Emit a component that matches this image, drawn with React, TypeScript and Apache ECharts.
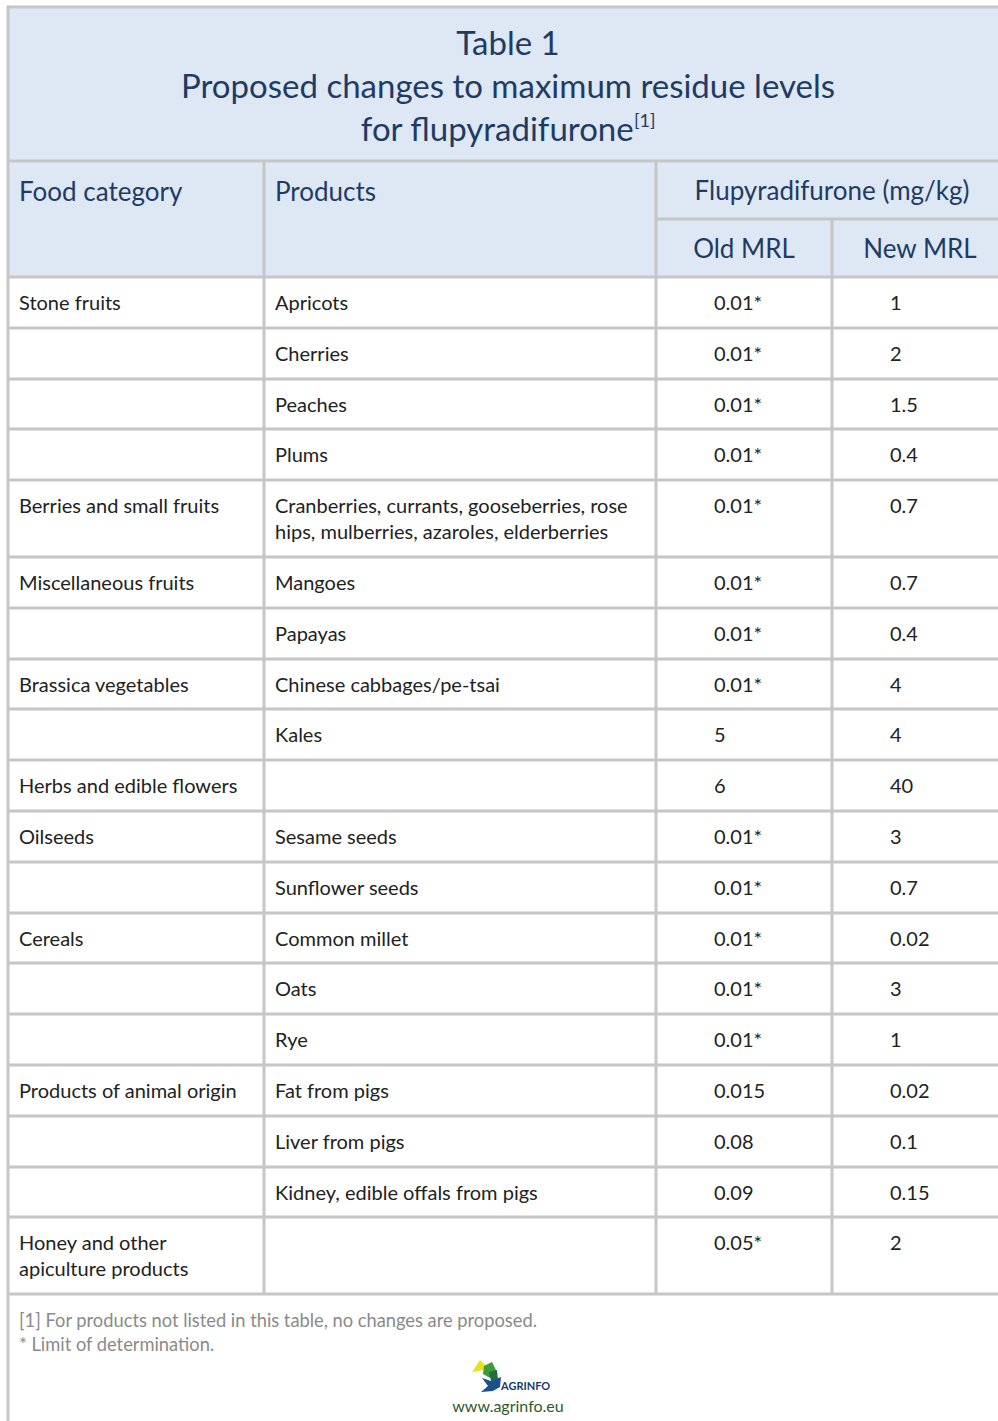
import React, { useEffect, useRef } from "react";
import * as echarts from "echarts";

const titleLines = ["Table 1", "Proposed changes to maximum residue levels", "for flupyradifurone"];
const headers = ["Food category", "Products", "Flupyradifurone (mg/kg)", "Old MRL", "New MRL"];
const categories = [
  "Stone fruits", "", "", "", "Berries and small fruits", "Miscellaneous fruits", "",
  "Brassica vegetables", "", "Herbs and edible flowers", "Oilseeds", "", "Cereals", "", "",
  "Products of animal origin", "", "", "Honey and other\napiculture products",
];
const products = [
  "Apricots", "Cherries", "Peaches", "Plums",
  "Cranberries, currants, gooseberries, rose\nhips, mulberries, azaroles, elderberries",
  "Mangoes", "Papayas", "Chinese cabbages/pe-tsai", "Kales", "", "Sesame seeds",
  "Sunflower seeds", "Common millet", "Oats", "Rye", "Fat from pigs", "Liver from pigs",
  "Kidney, edible offals from pigs", "",
];
const oldMRL = [
  "0.01*", "0.01*", "0.01*", "0.01*", "0.01*", "0.01*", "0.01*", "0.01*", "5", "6",
  "0.01*", "0.01*", "0.01*", "0.01*", "0.01*", "0.015", "0.08", "0.09", "0.05*",
];
const newMRL = [
  "1", "2", "1.5", "0.4", "0.7", "0.7", "0.4", "4", "4", "40",
  "3", "0.7", "0.02", "3", "1", "0.02", "0.1", "0.15", "2",
];
const footnotes = ["[1] For products not listed in this table, no changes are proposed.", "* Limit of determination."];
const website = "www.agrinfo.eu";

const FONT = "Lato, 'Noto Sans', sans-serif";
const BORDER = "#c6c6c6";
const HEAD_BG = "#dde8f4";
const NAVY = "#1f3b63";
const BODY = "#222222";

export default function App() {
  const ref = useRef<HTMLDivElement>(null);
  useEffect(() => {
    document.body.style.margin = "0";
    const chart = echarts.init(ref.current!, null, { renderer: "svg" });
    const W = 998;
    const L = 8;
    const R = 1008;
    const top = 7;
    const titleBottom = 161;
    const subLine = 219;
    const headBottom = 277;
    const colX = [L, 264, 656, 832, R];
    const lineH = 26;
    const baseRow = 50.8;

    const els: any[] = [];
    els.push({ type: "rect", shape: { x: L, y: top, width: W - L, height: headBottom - top }, style: { fill: HEAD_BG }, silent: true });

    const tY = [42, 85, 128];
    titleLines.forEach((t, i) => {
      if (i < 2) {
        els.push({ type: "text", x: (L + R) / 2, y: tY[i], style: { text: t, font: `33px ${FONT}`, fill: NAVY, align: "center", verticalAlign: "middle" } });
      } else {
        els.push({
          type: "text", x: (L + R) / 2, y: tY[i],
          style: {
            text: `{a|${t}}{s|[1]}`, align: "center", verticalAlign: "middle",
            rich: {
              a: { fontFamily: FONT, fontSize: 33, fill: NAVY, lineHeight: 40 },
              s: { fontFamily: FONT, fontSize: 18, fill: NAVY, padding: [0, 0, 16, 0], lineHeight: 20 },
            },
          },
        });
      }
    });

    const HF = `26px ${FONT}`;
    els.push({ type: "text", x: 19, y: 191, style: { text: headers[0], font: HF, fill: NAVY, verticalAlign: "middle" } });
    els.push({ type: "text", x: 275, y: 191, style: { text: headers[1], font: HF, fill: NAVY, verticalAlign: "middle" } });
    els.push({ type: "text", x: (colX[2] + R) / 2, y: 190, style: { text: headers[2], font: HF, fill: NAVY, align: "center", verticalAlign: "middle" } });
    els.push({ type: "text", x: (colX[2] + colX[3]) / 2, y: 248, style: { text: headers[3], font: HF, fill: NAVY, align: "center", verticalAlign: "middle" } });
    els.push({ type: "text", x: (colX[3] + R) / 2, y: 248, style: { text: headers[4], font: HF, fill: NAVY, align: "center", verticalAlign: "middle" } });

    let y = headBottom;
    const rowTops: number[] = [];
    categories.forEach((c, i) => {
      const n = Math.max(c.split("\n").length, products[i].split("\n").length);
      const h = baseRow + lineH * (n - 1);
      rowTops.push(y);
      const ty = y + 12;
      const txt = (x: number, s: string) =>
        els.push({ type: "text", x, y: ty, style: { text: s, font: `20px ${FONT}`, fill: BODY, verticalAlign: "top", lineHeight: lineH } });
      if (c) txt(19, c);
      if (products[i]) txt(275, products[i]);
      txt(714, oldMRL[i]);
      txt(890, newMRL[i]);
      y += h;
    });
    const tableBottom = y;
    rowTops.push(tableBottom);

    const hl = (x1: number, x2: number, yy: number) =>
      els.push({ type: "line", shape: { x1, y1: yy, x2, y2: yy }, style: { stroke: BORDER, lineWidth: 3 }, silent: true });
    const vl = (xx: number, y1: number, y2: number) =>
      els.push({ type: "line", shape: { x1: xx, y1, x2: xx, y2 }, style: { stroke: BORDER, lineWidth: 3 }, silent: true });
    hl(L, W, top);
    hl(L, W, titleBottom);
    hl(colX[2], W, subLine);
    rowTops.forEach((ry) => hl(L, W, Math.round(ry)));
    vl(colX[1], titleBottom, tableBottom);
    vl(colX[2], titleBottom, tableBottom);
    vl(colX[3], subLine, tableBottom);
    vl(L, top - 1.5, 1421);

    footnotes.forEach((f, i) => {
      els.push({ type: "text", x: 19, y: 1320 + i * 24, style: { text: f, font: `18.3px ${FONT}`, fill: "#8a8a8a", verticalAlign: "middle" } });
    });

    els.push({ type: "polygon", shape: { points: [[472, 1372], [480, 1360], [489, 1369]] }, style: { fill: "#e8e21c" } });
    els.push({ type: "polygon", shape: { points: [[484, 1366], [492, 1362], [497, 1372], [490, 1378], [483, 1374]] }, style: { fill: "#3f9a3a" } });
    els.push({ type: "polygon", shape: { points: [[489, 1372], [497, 1370], [498, 1380], [491, 1381]] }, style: { fill: "#1f6f3a" } });
    els.push({ type: "polygon", shape: { points: [[482, 1378], [491, 1381], [501, 1377], [500, 1387], [493, 1391], [481, 1392], [488, 1386]] }, style: { fill: "#1c4f8c" } });
    els.push({ type: "text", x: 501, y: 1385, style: { text: "AGRINFO", font: `bold 11px ${FONT}`, fill: "#1c3a6a", verticalAlign: "middle" } });
    els.push({ type: "text", x: 508, y: 1405, style: { text: website, font: `16px ${FONT}`, fill: "#2c5a2c", align: "center", verticalAlign: "middle" } });

    chart.setOption({ animation: false, graphic: { elements: els } });
    return () => chart.dispose();
  }, []);
  return <div ref={ref} style={{ position: "absolute", left: 0, top: 0, width: 998, height: 1421, background: "#fff" }} />;
}
